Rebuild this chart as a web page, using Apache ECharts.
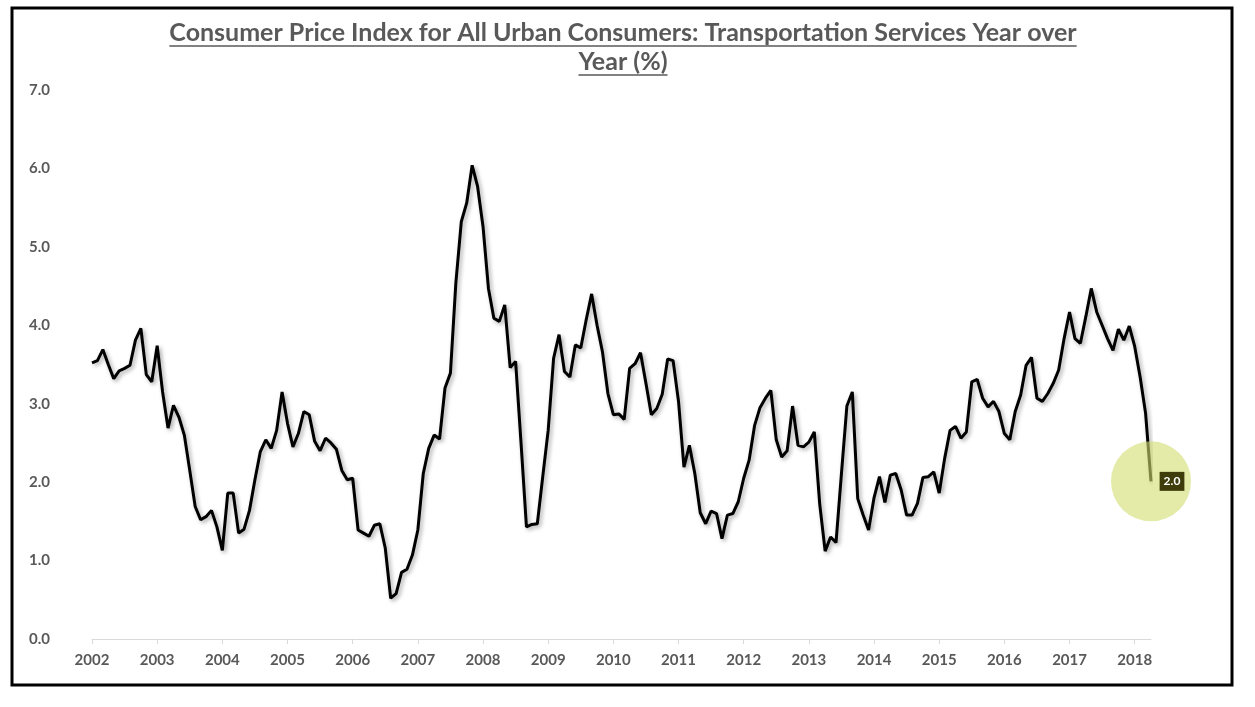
<!DOCTYPE html>
<html>
<head>
<meta charset="utf-8">
<script src="https://cdn.jsdelivr.net/npm/echarts@6/dist/echarts.min.js"></script>
<style>
html,body{margin:0;padding:0;background:#fff;}
#c{width:1255px;height:707px;}
</style>
</head>
<body>
<div id="c"></div>
<script>
const titleLines = ["Consumer Price Index for All Urban Consumers: Transportation Services Year over", "Year (%)"];
const startYear = 2002;
const yTicks = [0, 1, 2, 3, 4, 5, 6, 7];
// Monthly values, Jan 2002 .. Apr 2018
const v2002 = [3.52, 3.55, 3.69, 3.50, 3.32, 3.42, 3.45, 3.49, 3.81, 3.96, 3.37, 3.28];
const v2003 = [3.74, 3.15, 2.69, 2.98, 2.83, 2.60, 2.15, 1.69, 1.52, 1.56, 1.64, 1.43];
const v2004 = [1.13, 1.86, 1.86, 1.35, 1.40, 1.64, 2.03, 2.39, 2.54, 2.43, 2.66, 3.15];
const v2005 = [2.75, 2.45, 2.62, 2.90, 2.86, 2.52, 2.40, 2.56, 2.50, 2.42, 2.15, 2.03];
const v2006 = [2.05, 1.39, 1.35, 1.31, 1.45, 1.47, 1.16, 0.52, 0.58, 0.85, 0.89, 1.07];
const v2007 = [1.39, 2.11, 2.43, 2.60, 2.55, 3.20, 3.39, 4.54, 5.32, 5.56, 6.04, 5.77];
const v2008 = [5.26, 4.47, 4.09, 4.05, 4.26, 3.46, 3.54, 2.50, 1.43, 1.46, 1.47, 2.07];
const v2009 = [2.66, 3.58, 3.88, 3.41, 3.34, 3.75, 3.71, 4.07, 4.40, 4.00, 3.66, 3.13];
const v2010 = [2.86, 2.87, 2.80, 3.45, 3.51, 3.65, 3.26, 2.86, 2.94, 3.12, 3.57, 3.55];
const v2011 = [3.03, 2.19, 2.47, 2.11, 1.61, 1.47, 1.63, 1.60, 1.28, 1.58, 1.60, 1.75];
const v2012 = [2.05, 2.28, 2.72, 2.95, 3.07, 3.17, 2.54, 2.32, 2.40, 2.97, 2.47, 2.45];
const v2013 = [2.51, 2.64, 1.72, 1.12, 1.30, 1.23, 2.11, 2.97, 3.15, 1.79, 1.58, 1.39];
const v2014 = [1.80, 2.07, 1.74, 2.09, 2.11, 1.90, 1.58, 1.58, 1.73, 2.06, 2.07, 2.13];
const v2015 = [1.86, 2.30, 2.66, 2.71, 2.56, 2.64, 3.28, 3.31, 3.07, 2.96, 3.03, 2.90];
const v2016 = [2.62, 2.54, 2.90, 3.11, 3.49, 3.59, 3.07, 3.03, 3.13, 3.26, 3.43, 3.83];
const v2017 = [4.17, 3.83, 3.77, 4.11, 4.47, 4.17, 4.00, 3.83, 3.68, 3.95, 3.81, 3.99];
const v2018 = [3.73, 3.34, 2.88, 2.01];

const values = [].concat(v2002, v2003, v2004, v2005, v2006, v2007, v2008, v2009,
  v2010, v2011, v2012, v2013, v2014, v2015, v2016, v2017, v2018);
const seriesData = values.map((v, i) => [i, v]);
const lastIdx = values.length - 1;

const FONT = 'Lato';
const titleFont = 'bold 25px ' + FONT;
const mctx = document.createElement('canvas').getContext('2d');
mctx.font = titleFont;
const w1 = mctx.measureText(titleLines[0]).width;
const w2 = mctx.measureText(titleLines[1]).width;
const cx = 623;

const chart = echarts.init(document.getElementById('c'), null, {renderer: 'canvas'});
chart.setOption({
  animation: false,
  backgroundColor: '#ffffff',
  grid: {left: 92, top: 90, width: 1059, height: 549, containLabel: false},
  graphic: [
    {type: 'rect', shape: {x: 12, y: 8, width: 1220, height: 677},
     style: {fill: 'none', stroke: '#000', lineWidth: 3}},
    {type: 'text', x: cx, y: 33, style: {text: titleLines[0], font: titleFont, fill: '#595959', align: 'center', verticalAlign: 'middle'}},
    {type: 'text', x: cx, y: 62, style: {text: titleLines[1], font: titleFont, fill: '#595959', align: 'center', verticalAlign: 'middle'}},
    {type: 'line', shape: {x1: cx - w1 / 2, y1: 46, x2: cx + w1 / 2, y2: 46}, style: {stroke: '#595959', lineWidth: 1.5}},
    {type: 'line', shape: {x1: cx - w2 / 2, y1: 75, x2: cx + w2 / 2, y2: 75}, style: {stroke: '#595959', lineWidth: 1.5}}
  ],
  xAxis: {
    type: 'value', min: 0, max: lastIdx, interval: 12,
    axisLine: {show: true, lineStyle: {color: '#d9d9d9', width: 1}},
    axisTick: {show: true, length: 5, lineStyle: {color: '#d9d9d9'}},
    splitLine: {show: false},
    axisLabel: {show: true, margin: 14, color: '#595959', fontFamily: FONT, fontWeight: 'bold', fontSize: 15,
      showMaxLabel: false, formatter: v => String(startYear + Math.round(v / 12))}
  },
  yAxis: {
    type: 'value', min: yTicks[0], max: yTicks[yTicks.length - 1], interval: 1,
    axisLine: {show: false}, axisTick: {show: false}, splitLine: {show: false},
    axisLabel: {margin: 42, color: '#595959', fontFamily: FONT, fontWeight: 'bold', fontSize: 15,
      formatter: v => v.toFixed(1)}
  },
  series: [{
    type: 'line', data: seriesData, symbol: 'none', smooth: false,
    lineStyle: {color: '#000', width: 3, shadowColor: 'rgba(0,0,0,0.35)', shadowBlur: 4, shadowOffsetX: 2, shadowOffsetY: 2},
    markPoint: {
      symbol: 'circle', symbolSize: 80,
      itemStyle: {color: 'rgba(210,222,110,0.6)'},
      label: {show: true, position: 'inside', offset: [21, 0], formatter: p => Number(p.value).toFixed(1),
        color: '#fff', fontFamily: FONT, fontWeight: 'bold', fontSize: 12, backgroundColor: '#3d3c0a', padding: [4, 4, 3, 4]},
      data: [{coord: [lastIdx, values[lastIdx]], value: values[lastIdx]}]
    }
  }]
});
</script>
</body>
</html>
